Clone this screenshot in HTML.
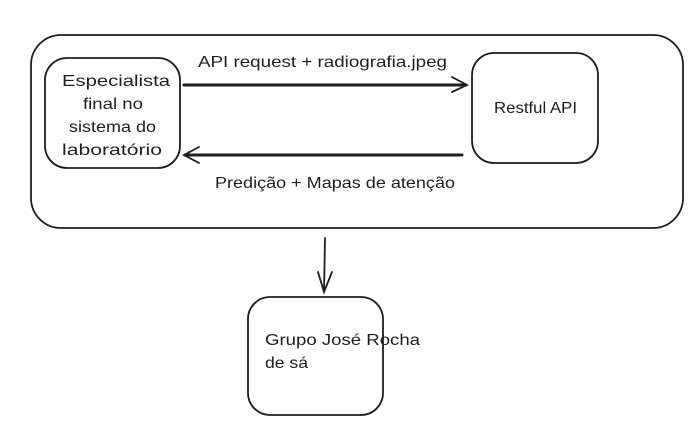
<!DOCTYPE html>
<html><head><meta charset="utf-8"><style>
html,body{margin:0;padding:0;background:#fff;}
svg{display:block;}
text{font-family:"Liberation Sans",sans-serif;font-size:16px;fill:#1e1e1e;}
</style></head><body>
<svg width="690" height="432" viewBox="0 0 690 432" xmlns="http://www.w3.org/2000/svg">
<g fill="none" stroke="#1e1e1e" stroke-width="1.8" stroke-linecap="round">
<rect x="31" y="35" width="652" height="193" rx="30"/>
<rect x="45" y="58" width="135" height="110" rx="22"/>
<rect x="472" y="53" width="126" height="110" rx="22"/>
<rect x="248" y="297" width="135" height="118" rx="22"/>
<path d="M184 85 L466 85" stroke-width="3"/>
<path d="M452 77 L467 85 L452 92"/>
<path d="M462 155 L185 155" stroke-width="3"/>
<path d="M199 147 L184 155 L199 163"/>
<path d="M325 238 L324 292"/>
<path d="M318 272 L324 292 L332 272"/>
</g>
<text x="198" y="67" textLength="249" lengthAdjust="spacingAndGlyphs">API request + radiografia.jpeg</text>
<text x="215" y="188" textLength="240" lengthAdjust="spacingAndGlyphs">Predição + Mapas de atenção</text>
<text x="62" y="86" textLength="108" lengthAdjust="spacingAndGlyphs">Especialista</text>
<text x="83" y="109" textLength="60" lengthAdjust="spacingAndGlyphs">final no</text>
<text x="69" y="132" textLength="87" lengthAdjust="spacingAndGlyphs">sistema do</text>
<text x="62" y="155" textLength="100" lengthAdjust="spacingAndGlyphs">laboratório</text>
<text x="494" y="113" textLength="83" lengthAdjust="spacingAndGlyphs">Restful API</text>
<text x="265" y="345" textLength="155" lengthAdjust="spacingAndGlyphs">Grupo José Rocha</text>
<text x="265" y="368" textLength="43" lengthAdjust="spacingAndGlyphs">de sá</text>
</svg>
</body></html>
